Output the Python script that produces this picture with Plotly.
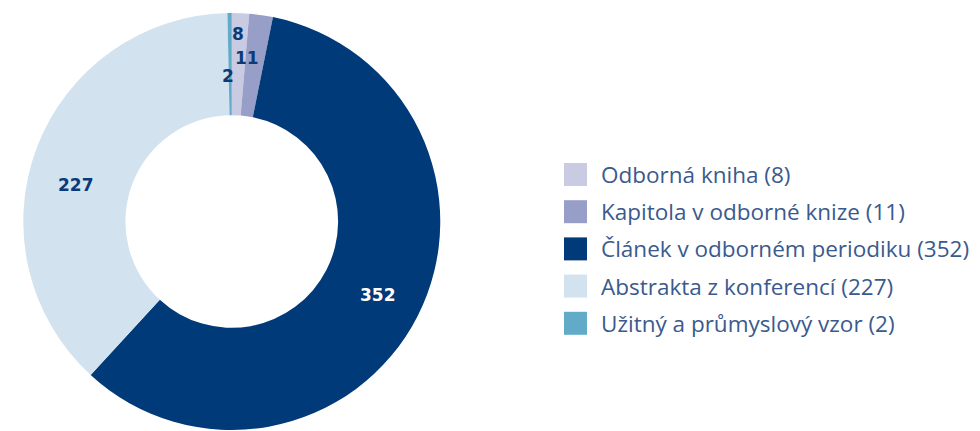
import math
import plotly.graph_objects as go

categories = ["Odborná kniha", "Kapitola v odborné knize", "Článek v odborném periodiku",
              "Abstrakta z konferencí", "Užitný a průmyslový vzor"]
values = [8, 11, 352, 227, 2]
colors = ["#c8cbe2", "#979fc8", "#003a78", "#d2e3ef", "#62abc8"]
label_colors = ["#0b3a78", "#0b3a78", "#ffffff", "#0b3a78", "#0b3a78"]

W, H = 980, 431
PIE_TOP, PIE_BOTTOM = 13, 430          # pixel extent of the pie
DOM_X = [0.0, 0.473]
HOLE = 0.51

# label placement style: radial fraction of outer radius + pixel nudges
label_r = [0.90, 0.79, 0.755, 0.755, 0.70]
label_dx = [-2, -8, 6, -9, -2]
label_dy = [0, 0, 2, 19, 0]

fig = go.Figure()
fig.add_trace(go.Pie(
    labels=categories, values=values, textinfo="none",
    marker=dict(colors=colors, line=dict(width=0)),
    hole=HOLE, sort=False, direction="clockwise", rotation=0,
    domain=dict(x=DOM_X, y=[1 - PIE_BOTTOM / H, 1 - PIE_TOP / H]),
    showlegend=False, hoverinfo="label+value",
))

cx = (DOM_X[0] + DOM_X[1]) / 2 * W
cy = (PIE_TOP + PIE_BOTTOM) / 2
R = (PIE_BOTTOM - PIE_TOP) / 2
total = sum(values)

annotations = []
cum = 0
for i, v in enumerate(values):
    mid = (cum + v / 2) / total * 2 * math.pi
    cum += v
    r = label_r[i] * R
    px = cx + r * math.sin(mid) + label_dx[i]
    py = cy - r * math.cos(mid) + label_dy[i]
    annotations.append(dict(
        x=px / W, y=1 - py / H, xref="paper", yref="paper",
        text=f"<b>{v}</b>", showarrow=False, xanchor="center", yanchor="middle",
        font=dict(family="DejaVu Sans", size=17, color=label_colors[i])))

# custom legend with large squares
shapes = []
leg_x0, leg_y0, leg_dy, sq = 564, 174.5, 37.2, 23
for i, (c, v, col) in enumerate(zip(categories, values, colors)):
    yc = leg_y0 + i * leg_dy
    shapes.append(dict(type="rect", xref="paper", yref="paper",
                       x0=leg_x0 / W, x1=(leg_x0 + sq) / W,
                       y0=1 - (yc - sq / 2) / H, y1=1 - (yc + sq / 2) / H,
                       fillcolor=col, line=dict(width=0)))
    annotations.append(dict(
        x=(leg_x0 + 35) / W, y=1 - yc / H, xref="paper", yref="paper",
        text=f"{c} ({v})", showarrow=False, xanchor="left", yanchor="middle",
        font=dict(family="Open Sans", size=22.5, color="#3a5a8e")))

fig.update_layout(
    width=W, height=H,
    margin=dict(l=0, r=0, t=0, b=0),
    paper_bgcolor="white", plot_bgcolor="white",
    shapes=shapes, annotations=annotations,
)
fig.write_html("out.html", config={"displayModeBar": False},
               post_script="document.body.style.margin='0';")
